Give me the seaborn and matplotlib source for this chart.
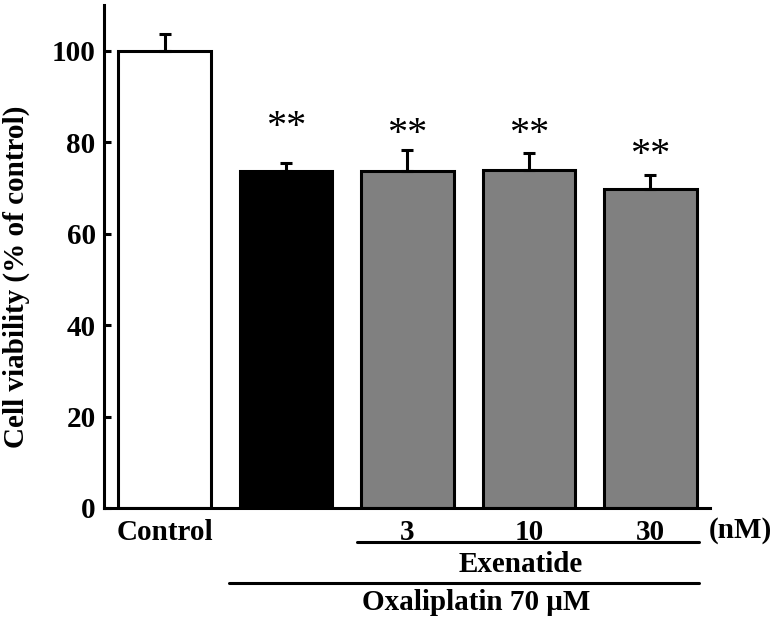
import matplotlib.pyplot as plt
from matplotlib.lines import Line2D
import seaborn as sns
import pandas as pd

# Data
groups = ['Control', 'Oxaliplatin', 'Exenatide 3', 'Exenatide 10', 'Exenatide 30']
tick_labels = ['Control', '', '3', '10', '30']
viability = [100.0, 73.6, 73.6, 74.0, 69.7]
sem = [3.7, 1.9, 4.6, 3.7, 3.2]
signif = ['', '**', '**', '**', '**']
signif_y = [0, 84.5, 82.8, 82.8, 78.2]
bar_colors = ['white', 'black', '#808080', '#808080', '#808080']

df = pd.DataFrame({'group': groups, 'value': viability})

sns.set_style('ticks')
plt.rcParams['font.family'] = ['Liberation Serif', 'DejaVu Serif']
plt.rcParams['font.weight'] = 'bold'
plt.rcParams['text.color'] = 'black'
plt.rcParams['axes.edgecolor'] = 'black'
plt.rcParams['xtick.color'] = 'black'
plt.rcParams['ytick.color'] = 'black'

fig = plt.figure(figsize=(7.78, 6.23), dpi=100)
ax = fig.add_axes([0.1337, 0.1846, 0.7789, 0.8074])

sns.barplot(data=df, x='group', y='value', hue='group', palette=bar_colors,
            legend=False, width=0.76, edgecolor='black', linewidth=2.2,
            saturation=1, ax=ax)
ax.errorbar(range(len(groups)), viability, yerr=[[0] * len(sem), sem],
            fmt='none', ecolor='black', elinewidth=2.2, capsize=4, capthick=2.2)

for i, (s, y) in enumerate(zip(signif, signif_y)):
    if s:
        ax.text(i, y - 1.2, s, ha='center', va='center', fontsize=29,
                fontweight='normal', color='black')

ax.set_ylim(0, 110)
ax.set_xlim(-0.498, 4.49)
ax.set_yticks([0, 20, 40, 60, 80, 100])
ax.set_xticks(range(len(groups)))
ax.set_xticklabels(tick_labels)
ax.set_xlabel('')
ax.set_ylabel('')
for side in ['top', 'right']:
    ax.spines[side].set_visible(False)
for side in ['left', 'bottom']:
    ax.spines[side].set_linewidth(2.2)
ax.tick_params(axis='y', direction='in', length=5, width=2.2, labelsize=21, pad=6)
ax.tick_params(axis='x', length=0, pad=8, labelsize=21)

fig.text(0.021, 1 - 277 / 623, 'Cell viability (% of control)', rotation=90,
         ha='center', va='center', fontsize=21, fontweight='bold')
fig.text(740 / 778, 1 - 530 / 623, '(nM)', ha='center', va='center', fontsize=21)
fig.add_artist(Line2D([357 / 778, 699 / 778], [1 - 542 / 623] * 2,
                      transform=fig.transFigure, color='black', lw=2.2))
fig.text(521 / 778, 1 - 565 / 623, 'Exenatide', ha='center', va='center', fontsize=21)
fig.add_artist(Line2D([229 / 778, 699 / 778], [1 - 583 / 623] * 2,
                      transform=fig.transFigure, color='black', lw=2.2))
fig.text(476 / 778, 1 - 603 / 623, 'Oxaliplatin 70 μM', ha='center', va='center', fontsize=21)

fig.savefig('out.png', dpi=100)
